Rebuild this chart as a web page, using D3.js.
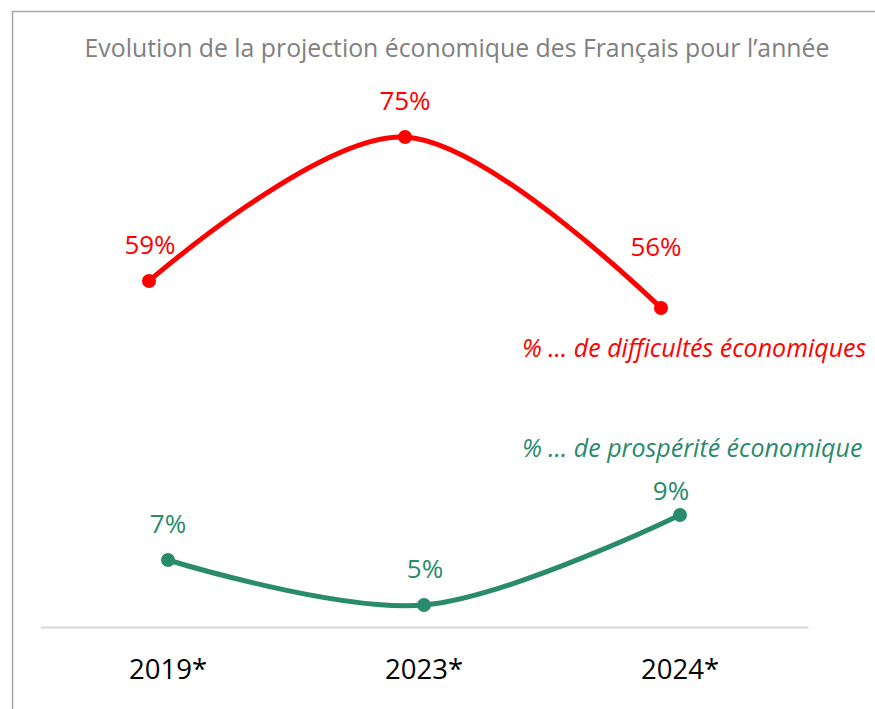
<!DOCTYPE html>
<html>
<head>
<meta charset="utf-8">
<script src="https://cdn.jsdelivr.net/npm/d3@7"></script>
<style>
  body { margin: 0; background: #fff; }
  svg { display: block; font-family: "Open Sans", Lato, sans-serif; }
</style>
</head>
<body>
<div id="chart"></div>
<script>
// data
const years = ['2019*', '2023*', '2024*'];
const difficultes = [59, 75, 56];
const prosperite = [7, 5, 9];
const seriesNames = ['% … de difficultés économiques', '% … de prospérité économique'];

const width = 875, height = 709;
const red = '#ff0000', green = '#2a8a6c';
const font = '"Open Sans", Lato, sans-serif';

const svg = d3.select('#chart').append('svg')
    .attr('width', width)
    .attr('height', height);

// frame
svg.append('rect')
    .attr('x', 12.5).attr('y', 11.5)
    .attr('width', 900).attr('height', 800)
    .attr('fill', 'none')
    .attr('stroke', '#a6a6a6')
    .attr('stroke-width', 1.5);

svg.append('text')
    .attr('x', 457).attr('y', 57)
    .attr('text-anchor', 'middle')
    .attr('font-size', 24.8)
    .attr('fill', '#808080')
    .text('Evolution de la projection économique des Français pour l’année');

// scales
let x = d3.scaleBand()
    .domain(years)
    .range([40, 808]);
let yRed = d3.scaleLinear()   // primary axis
    .domain([0, 100])
    .range([812, -88]);
let yGreen = d3.scaleLinear() // secondary axis
    .domain([0, 10])
    .range([717.5, 492.5]);

// baseline + category labels
let xAxis = d3.axisBottom(x).tickSize(0).tickPadding(32);
let ax = svg.append('g')
    .attr('transform', 'translate(0, 627)')
    .call(xAxis);
ax.select('.domain').attr('stroke', '#d9d9d9').attr('stroke-width', 2);
ax.selectAll('text')
    .attr('font-family', font)
    .attr('font-size', 27.5)
    .attr('fill', '#000');

const curve = d3.curveCardinal.tension(0);

function drawSeries(values, yScale, color, dx, labelOffsets) {
    let pts = values.map((v, i) => ({ x: x(years[i]) + x.bandwidth() / 2 + dx, y: yScale(v), v: v }));
    let line = d3.line().x(d => d.x).y(d => d.y).curve(curve);
    svg.append('path')
        .attr('d', line(pts))
        .attr('fill', 'none')
        .attr('stroke', color)
        .attr('stroke-width', 5);
    svg.selectAll(null).data(pts).join('circle')
        .attr('cx', d => d.x).attr('cy', d => d.y)
        .attr('r', 7)
        .attr('fill', color);
    svg.selectAll(null).data(pts).join('text')
        .attr('x', (d, i) => d.x + labelOffsets[i][0])
        .attr('y', (d, i) => d.y + labelOffsets[i][1])
        .attr('text-anchor', 'middle')
        .attr('font-size', 26)
        .attr('fill', color)
        .text(d => d.v + '%');
}

drawSeries(difficultes, yRed, red, -19, [[1, -27], [0, -27], [-5, -52]]);
drawSeries(prosperite, yGreen, green, 0, [[0, -27], [1, -27], [-9, -15]]);

// series labels
svg.append('text')
    .attr('x', 522).attr('y', 357)
    .attr('font-size', 25)
    .attr('font-style', 'italic')
    .attr('fill', red)
    .text(seriesNames[0]);
svg.append('text')
    .attr('x', 522).attr('y', 457)
    .attr('font-size', 25)
    .attr('font-style', 'italic')
    .attr('fill', green)
    .text(seriesNames[1]);
</script>
</body>
</html>
